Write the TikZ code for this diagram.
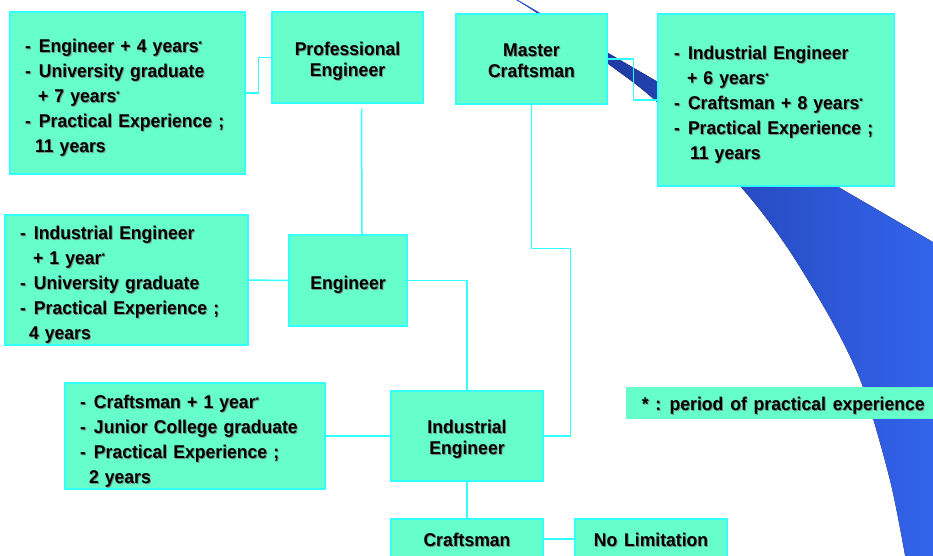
\documentclass[tikz,border=0pt]{standalone}
\usepackage{fontspec}
\setmainfont[WordSpace=1.4,FakeStretch=0.95]{Liberation Sans}
\usetikzlibrary{calc}
\definecolor{mint}{RGB}{102,255,204}
\definecolor{edge}{RGB}{51,255,255}
\definecolor{shade}{RGB}{110,150,135}
\definecolor{swdark}{RGB}{25,45,140}
\definecolor{swlight}{RGB}{52,102,240}
\definecolor{swedge}{RGB}{55,95,230}
% list marker, raised footnote star and continuation indent
\newcommand{\itm}{\makebox[14pt][l]{-}}
\newcommand{\stx}{\raisebox{5pt}{\fontsize{9}{9}\selectfont *}}
\newcommand{\ind}[1]{\hspace*{#1pt}}
% text with a soft drop shadow: position, node options, contents
\newcommand{\shtext}[3]{%
  \node[txt,#2,xshift=1pt,yshift=-1pt,text=shade] at (#1) {#3};
  \node[txt,#2] at (#1) {#3};}

\begin{document}
\begin{tikzpicture}[x=1pt,y=-1pt,
  box/.style={draw=edge, fill=mint, line width=1.3pt, inner sep=0pt},
  txt/.style={inner sep=0pt, align=center,
    font=\bfseries\fontsize{18.5}{21}\selectfont},
  req/.style={txt, align=left, font=\bfseries\fontsize{18.5}{25}\selectfont},
  conn/.style={draw=edge, line width=1.5pt}]
\useasboundingbox (0,0) rectangle (933,555);
\clip (0,0) rectangle (933,555);

% sweeping blue band in the background
\fill[left color=swdark, right color=swlight]
  (505,-7) -- (950,252) -- (950,560) -- (906,560)
  -- plot[smooth] coordinates {(905,555) (890,480) (863,387) (833,323)
     (787,247) (740,186) (658,103) (607,63) (540,15) (510,-4)}
  -- cycle;
% its thin tapering tip
\draw[swedge, line width=1pt] (512,-3) -- (548,18);

% qualification levels
\node[box, minimum width=151pt, minimum height=91pt] (pe) at (347.5,57.5) {};
\node[box, minimum width=151pt, minimum height=90pt] (mc) at (531.5,59) {};
\node[box, minimum width=118pt, minimum height=91pt] (eng) at (348,280.5) {};
\node[box, minimum width=152pt, minimum height=90pt] (ie) at (467,436) {};
\node[box, minimum width=152pt, minimum height=40pt] (cr) at (467,539) {};
\node[box, minimum width=152pt, minimum height=40pt] (nl) at (651,539) {};

% requirement boxes
\node[box, minimum width=235pt, minimum height=162pt] (reqPE) at (127.5,93) {};
\node[box, minimum width=236pt, minimum height=172pt] (reqMC) at (776,100) {};
\node[box, minimum width=243pt, minimum height=130pt] (reqE) at (126.5,280) {};
\node[box, minimum width=260pt, minimum height=106pt] (reqIE) at (195,436) {};

% footnote key
\node[fill=mint, inner sep=0pt, minimum width=314pt, minimum height=32pt,
  anchor=west] (key) at (626,403) {};

% connectors
\draw[conn] (reqPE.east) -- ++(13,0) |- (pe.west);
\draw[conn] ([xshift=14pt,yshift=-5pt]pe.south) -- ([xshift=14pt]eng.north);
\draw[conn] (reqE.east) -- (eng.west);
\draw[conn] (eng.east) -| (ie.north);
\draw[conn] (mc.south) -- ++(0,144) -| ([xshift=27pt]ie.east) -- (ie.east);
\draw[conn] (mc.east) -- ++(26,0) |- (reqMC.west);
\draw[conn] (reqIE.east) -- (ie.west);
\draw[conn] (ie.south) -- (cr.north);
\draw[conn] (cr.east) -- (nl.west);

% labels
\shtext{pe.center}{yshift=-3.5pt}{Professional\\Engineer}
\shtext{mc.center}{yshift=-1.5pt}{Master\\Craftsman}
\shtext{eng.center}{yshift=-4pt}{Engineer}
\shtext{ie.center}{yshift=-3.5pt}{Industrial\\Engineer}
\shtext{cr.center}{yshift=-0.5pt}{Craftsman}
\shtext{nl.center}{yshift=-0.5pt}{No Limitation}
\shtext{key.center}{yshift=-3pt}{* : period of practical experience}

\shtext{reqPE.center}{req, text width=205pt, yshift=-5pt}
  {\itm Engineer~+~4~years\stx\\
   \itm University~graduate\\
   \ind{13}+~7~years\stx\\
   \itm Practical~Experience~;\\
   \ind{10}11~years}
\shtext{reqMC.center}{req, text width=204pt, yshift=-5pt}
  {\itm Industrial~Engineer\\
   \ind{13}+~6~years\stx\\
   \itm Craftsman~+~8~years\stx\\
   \itm Practical~Experience~;\\
   \ind{16}11~years}
\shtext{reqE.center}{req, text width=213pt, yshift=-5pt}
  {\itm Industrial~Engineer\\
   \ind{13}+~1~year\stx\\
   \itm University~graduate\\
   \itm Practical~Experience~;\\
   \ind{9}4~years}
\shtext{reqIE.center}{req, text width=230pt, yshift=-5pt}
  {\itm Craftsman~+~1~year\stx\\
   \itm Junior~College~graduate\\
   \itm Practical~Experience~;\\
   \ind{9}2~years}
\end{tikzpicture}
\end{document}
